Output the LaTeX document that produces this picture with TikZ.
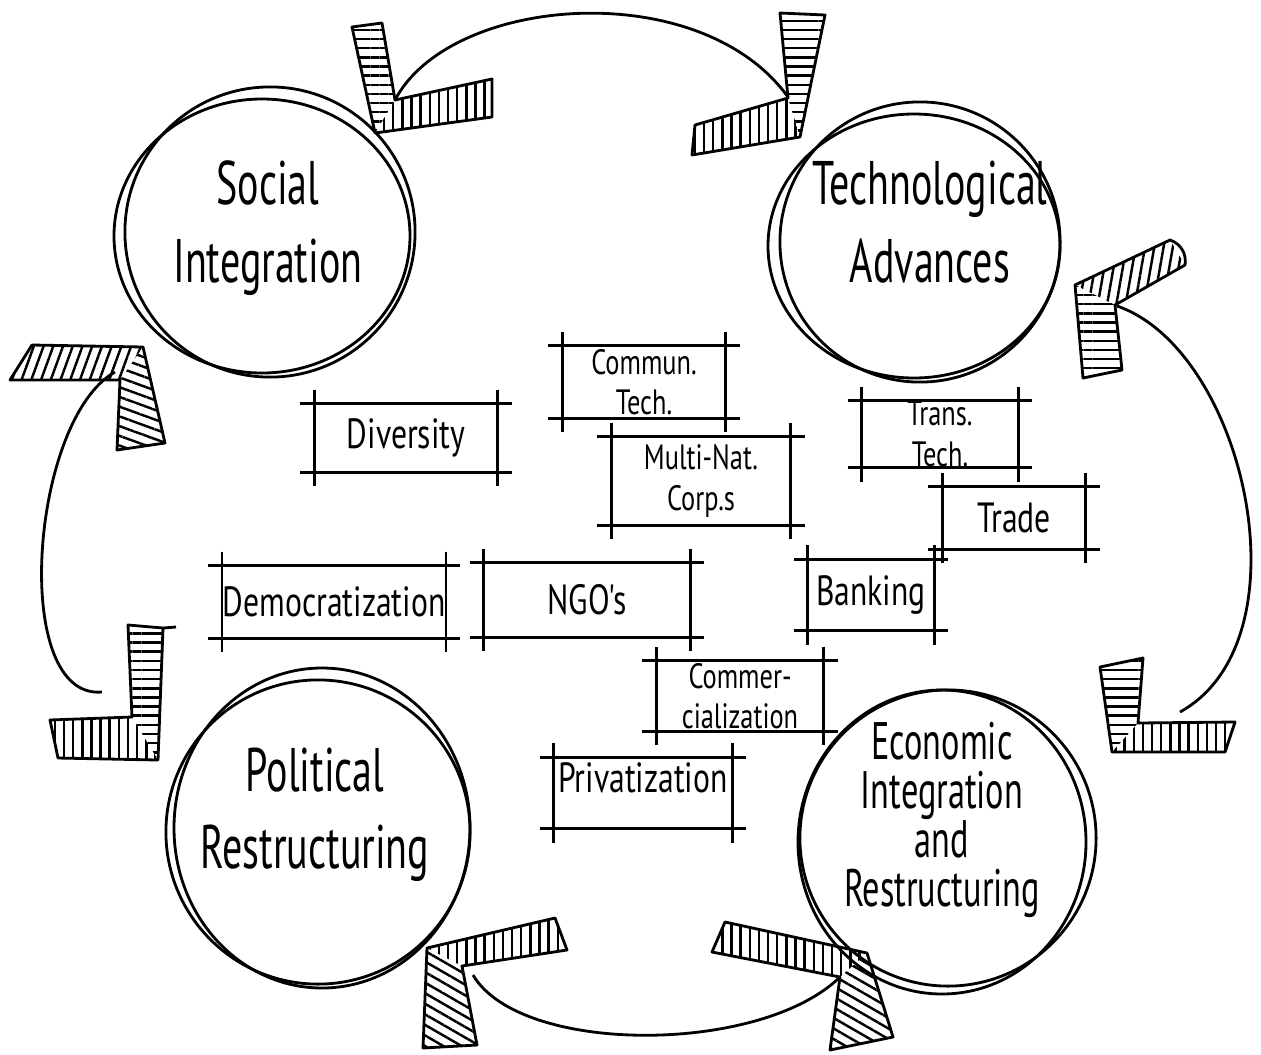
\documentclass[tikz,border=0pt]{standalone}
\usepackage{fontspec}
\usetikzlibrary{patterns.meta}
\newfontfamily\handfont[FakeStretch=0.75]{PT Sans}
\newfontfamily\narrowhand[FakeStretch=0.65]{PT Sans}
\tikzset{
  ring/.style={circle,draw,line width=0.8pt,inner sep=0pt},
  circtext/.style={font=\narrowhand\fontsize{17.5}{22}\selectfont,align=center},
  boxtext/.style={font=\handfont\fontsize{12}{13}\selectfont,align=center,inner sep=0pt},
  twoline/.style={font=\handfont\fontsize{10}{11.5}\selectfont},
  hatch/.style={pattern={Lines[angle=#1,distance=2.6pt,line width=0.7pt]}},
  bracket/.style={draw,line width=0.8pt,line join=round},
  link/.style={line width=0.8pt}
}
\newcommand{\sketchbox}[1]{%
  \draw[line width=0.8pt] ([xshift=-4pt]#1.north west) -- ([xshift=4pt]#1.north east);
  \draw[line width=0.8pt] ([xshift=-4pt]#1.south west) -- ([xshift=4pt]#1.south east);
  \draw[line width=0.8pt] ([yshift=4pt]#1.north west) -- ([yshift=-4pt]#1.south west);
  \draw[line width=0.8pt] ([yshift=4pt]#1.north east) -- ([yshift=-4pt]#1.south east);}
\begin{document}
\begin{tikzpicture}[x=0.01cm,y=-0.01cm]
\useasboundingbox (0,0) rectangle (1261,1054);
% the four circles
\node[ring,minimum size=2.9cm] (SIr) at (270,232) {};
\draw[line width=0.8pt] (262,236) ellipse[x radius=148,y radius=137];
\node[circtext] (SI) at (268,228) {Social\\Integration};
\node[ring,minimum size=2.8cm] (TAr) at (920,242) {};
\draw[line width=0.8pt] (914,246) ellipse[x radius=146,y radius=132];
\node[circtext] (TA) at (930,222) {Technological\\Advances};
\node[ring,minimum size=3.04cm] (PRr) at (318,832) {};
\draw[line width=0.8pt] (322,828) ellipse[x radius=148,y radius=160];
\node[circtext] (PR) at (315,815) {Political\\Restructuring};
\node[ring,minimum size=2.96cm] (EIr) at (948,838) {};
\draw[line width=0.8pt] (942,842) ellipse[x radius=144,y radius=152];
\node[circtext,font=\narrowhand\fontsize{15}{14}\selectfont] (EI) at (942,820)
  {Economic\\Integration\\and\\Restructuring};
% hatched brackets
\path[hatch=0] (352,27) -- (382,23) -- (395,100) -- (375,133) -- cycle;
\path[hatch=90] (395,100) -- (492,79) -- (492,117) -- (375,133) -- cycle;
\draw[bracket] (352,27) -- (382,23) -- (395,100) -- (492,79) -- (492,117) -- (375,133) -- cycle;
\coordinate (topL) at (395,100);
\path[hatch=0] (780,13) -- (825,15) -- (800,137) -- (788,98) -- cycle;
\path[hatch=90] (695,125) -- (788,98) -- (800,137) -- (692,155) -- cycle;
\draw[bracket] (780,13) -- (825,15) -- (800,137) -- (692,155) -- (695,125) -- (788,98) -- cycle;
\coordinate (topR) at (788,97);
\path[hatch=70] (32,345) -- (143,347) -- (120,380) -- (10,380) -- cycle;
\path[hatch=-20] (143,347) -- (165,443) -- (117,450) -- (120,380) -- cycle;
\draw[bracket] (32,345) -- (143,347) -- (165,443) -- (117,450) -- (120,380) -- (10,380) -- cycle;
\coordinate (leftT) at (115,372);
\path[hatch=0] (128,625) -- (163,628) -- (158,760) -- (132,717) -- cycle;
\path[hatch=90] (50,720) -- (132,717) -- (158,760) -- (58,758) -- cycle;
\draw[bracket] (128,625) -- (163,628) -- (158,760) -- (58,758) -- (50,720) -- (132,717) -- cycle;
\draw[line width=0.8pt] (163,628) -- (176,627);
\coordinate (leftB) at (102,692);
\path[hatch=80] (1075,285) -- (1170,240) -- (1185,265) -- (1115,305) -- cycle;
\path[hatch=0] (1075,285) -- (1115,305) -- (1122,370) -- (1083,378) -- cycle;
\draw[bracket] (1075,285) -- (1170,240) to[bend left=40] (1185,265) -- (1115,305)
  -- (1122,370) -- (1083,378) -- cycle;
\coordinate (rightT) at (1117,306);
\path[hatch=0] (1100,667) -- (1143,658) -- (1138,723) -- (1112,752) -- cycle;
\path[hatch=90] (1138,723) -- (1235,722) -- (1225,752) -- (1112,752) -- cycle;
\draw[bracket] (1100,667) -- (1143,658) -- (1138,723) -- (1235,722) -- (1225,752) -- (1112,752) -- cycle;
\coordinate (rightB) at (1180,712);
\path[hatch=90] (427,948) -- (555,918) -- (567,950) -- (462,966) -- cycle;
\path[hatch=-30] (427,948) -- (462,966) -- (477,1045) -- (423,1048) -- cycle;
\draw[bracket] (427,948) -- (555,918) -- (567,950) -- (462,966) -- (477,1045) -- (423,1048) -- cycle;
\coordinate (botL) at (473,975);
\path[hatch=90] (725,922) -- (867,953) -- (840,977) -- (712,952) -- cycle;
\path[hatch=-30] (867,953) -- (893,1037) -- (830,1050) -- (840,977) -- cycle;
\draw[bracket] (725,922) -- (867,953) -- (893,1037) -- (830,1050) -- (840,977) -- (712,952) -- cycle;
\coordinate (botR) at (840,977);
% curves between brackets
\draw[link] (topL) .. controls (450,-5) and (700,-25) .. (topR);
\draw[link] (leftT) .. controls (30,420) and (10,700) .. (leftB);
\draw[link] (rightT) .. controls (1245,350) and (1310,640) .. (rightB);
\draw[link] (botL) .. controls (520,1055) and (760,1055) .. (botR);
% boxes
\node[boxtext,twoline,minimum width=1.62cm,minimum height=0.71cm] (CT) at (644,382) {Commun.\\Tech.};
\node[boxtext,minimum width=1.82cm,minimum height=0.67cm] (DV) at (406,438) {Diversity};
\node[boxtext,twoline,minimum width=1.78cm,minimum height=0.87cm] (MN) at (701,481) {Multi-Nat.\\Corp.s};
\node[boxtext,twoline,minimum width=1.55cm,minimum height=0.62cm] (TT) at (940,434) {Trans.\\Tech.};
\node[boxtext,minimum width=1.42cm,minimum height=0.61cm] (TR) at (1014,518) {Trade};
\node[boxtext,minimum width=1.25cm,minimum height=0.70cm] (BK) at (871,595) {Banking};
\node[boxtext,minimum width=2.05cm,minimum height=0.71cm] (DM) at (334,602) {Democratization};
\node[boxtext,minimum width=2.05cm,minimum height=0.73cm] (NG) at (587,600) {NGO's};
\node[boxtext,twoline,minimum width=1.66cm,minimum height=0.69cm] (CM) at (740,696) {Commer-\\cialization};
\node[boxtext,minimum width=1.77cm,minimum height=0.70cm,text depth=0.3cm] (PV) at (643,793) {Privatization};
\foreach \b in {CT,DV,MN,TT,TR,BK,DM,NG,CM,PV} {\sketchbox{\b}}
\end{tikzpicture}
\end{document}
